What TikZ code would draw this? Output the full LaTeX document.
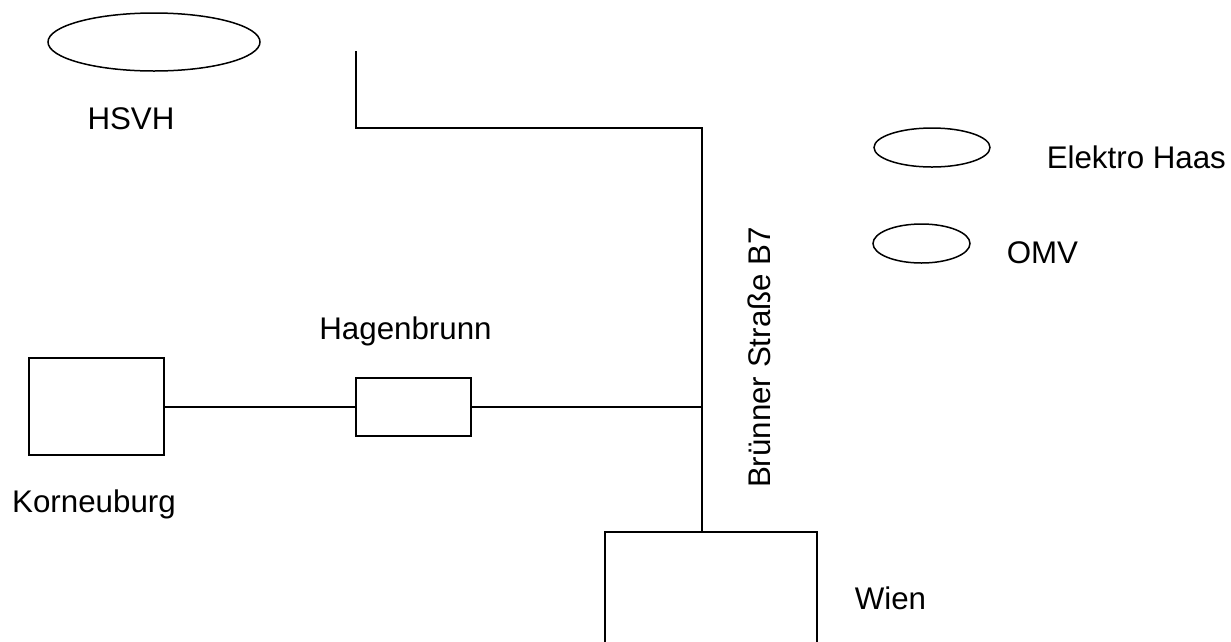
\documentclass[tikz,border=0pt]{standalone}
\usepackage{fontspec}
\setmainfont{Liberation Sans}
\usetikzlibrary{shapes.geometric}
\begin{document}
\begin{tikzpicture}[x=1pt,y=-1pt,
  line width=1.5pt,
  lbl/.style={inner sep=0pt,font=\fontsize{31.3}{36}\selectfont},
  oval/.style={draw,ellipse,inner sep=0pt},
  box/.style={draw,rectangle,inner sep=0pt}]
\useasboundingbox (0,0) rectangle (1231,641);
\clip (0,0) rectangle (1231,641);
% shapes
\node[oval,minimum width=212pt,minimum height=58pt] (hsvhO) at (154,42) {};
\node[oval,minimum width=116pt,minimum height=39pt] (haasO) at (932,147.5) {};
\node[oval,minimum width=97pt,minimum height=39pt] (omvO) at (921.5,243.5) {};
\node[box,minimum width=135pt,minimum height=97pt] (korn) at (96.5,406.5) {};
\node[box,minimum width=115pt,minimum height=58pt] (hagen) at (413.5,407) {};
\node[box,minimum width=212pt,minimum height=140pt] (wien) at (711,602) {};
% coordinates of the road
\coordinate (roadtop) at (356,51);
\coordinate (corner) at (702,128);
% labels
\node[lbl,anchor=base] (hsvhT) at (131,129) {HSVH};
\node[lbl,anchor=base west] (haasT) at (1046,168) {Elektro Haas};
\node[lbl,anchor=base west] (omvT) at (1006,263) {OMV};
\node[lbl,anchor=base] (hagenT) at (405.5,339) {Hagenbrunn};
\node[lbl,anchor=base] (kornT) at (94,512) {Korneuburg};
\node[lbl,anchor=base west] (wienT) at (854,609) {Wien};
\node[lbl,anchor=base,rotate=90] (b7T) at (770,357.5) {Brünner Straße B7};
% connectors
\draw (roadtop) |- (corner) -- (corner |- wien.north);
\draw (korn.east |- hagen.west) -- (hagen.west);
\draw (hagen.east) -- (hagen.east -| corner);
\end{tikzpicture}
\end{document}
